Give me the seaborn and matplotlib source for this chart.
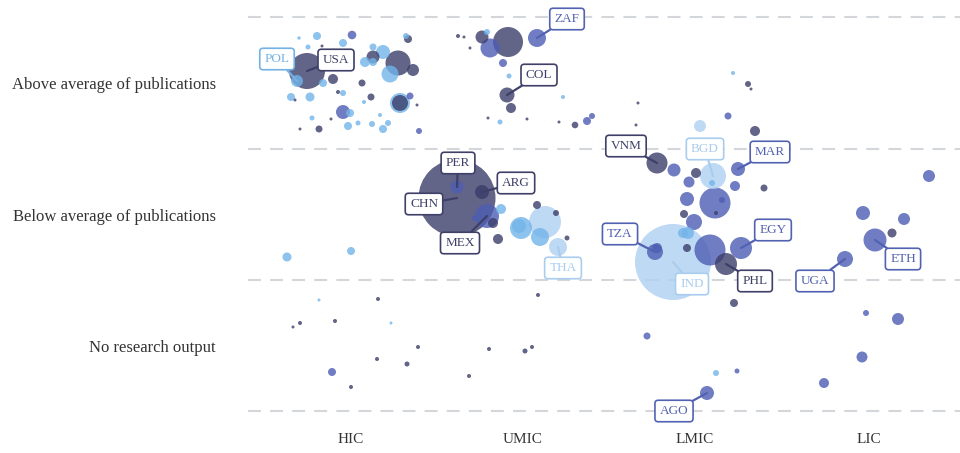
import numpy as np
import pandas as pd
import matplotlib
matplotlib.use("Agg")
import matplotlib.pyplot as plt
import seaborn as sns

# ---------------- data ----------------
income_groups = ["HIC", "UMIC", "LMIC", "LIC"]
income_centers = [351, 523, 695, 869]          # swarm-layout units
tiers = ["Above average of publications", "Below average of publications", "No research output"]
tier_centers = [83, 214.5, 345.5]
tier_bounds = [17, 149, 280, 411]

# bubble layout (swarm x, swarm y), bubble radius, colour group, country label
swarm_x = [
    # HIC above
    299, 317, 352, 406, 408, 308, 322, 343, 373, 383, 373, 365, 373, 390, 398, 413, 307, 297, 323, 333,
    362, 291, 295, 310, 338, 343, 371, 364, 400, 400, 410, 417, 343, 350, 312, 331, 348, 358, 372, 380,
    388, 383, 300, 319, 419,
    # UMIC above
    458, 464, 470, 482, 487, 490, 508, 537, 503, 509, 507, 511, 488, 500, 527, 563, 559, 575, 587, 592,
    # LMIC above
    638, 636, 733, 748, 751, 728, 700, 755,
    # UMIC below
    457, 457, 482, 487, 493, 475, 501, 498, 537, 545, 521, 519, 540, 558, 567, 556,
    # HIC below
    287, 351,
    # LMIC below
    657, 674, 696, 689, 713, 712, 738, 735, 764, 687, 715, 722, 716, 684, 694, 688, 683, 673, 655, 657,
    687, 710, 741, 726,
    # LIC below
    929, 863, 904, 892, 875, 845,
    # no research
    293, 300, 319, 335, 378, 391, 418, 377, 407, 332, 351, 469, 489, 525, 532, 538, 734, 647, 716, 737,
    707, 866, 898, 862, 824,
]
swarm_y = [
    38, 36, 35, 36, 39, 47, 46, 43, 47, 52, 57, 62, 62, 74, 63, 70, 71, 81, 83, 79,
    83, 97, 100, 97, 92, 93, 97, 102, 103, 103, 96, 105, 112, 113, 118, 119, 126, 123, 124, 115,
    123, 129, 129, 129, 131,
    36, 37, 48, 37, 32, 48, 42, 38, 63, 76, 95, 108, 118, 122, 119, 97, 122, 125, 121, 116,
    103, 125, 73, 84, 89, 116, 126, 131,
    198, 187, 192, 216, 223, 218, 209, 239, 205, 222, 228, 226, 237, 247, 238, 213,
    257, 251,
    163, 170, 173, 182, 176, 183, 169, 186, 188, 199, 203, 200, 213, 214, 222, 233, 233, 262, 252, 248,
    248, 250, 248, 264,
    176, 213, 219, 233, 240, 259,
    327, 323, 300, 321, 299, 323, 347, 359, 364, 372, 387, 376, 349, 351, 347, 295, 303, 336, 373, 371,
    393, 313, 319, 357, 383,
]
bubble = [
    1.7, 4, 4.3, 3, 4, 2.5, 1.5, 4, 3.5, 7, 6.5, 5, 4, 8.5, 12.5, 6, 18, 6, 4, 5,
    3.5, 4, 1.5, 4.5, 2, 3, 3.5, 2, 10, 8, 3.5, 1.5, 7, 4, 2.5, 1.5, 4, 2.5, 3, 2,
    3, 4, 1.5, 3.5, 3,
    2, 1.5, 1.5, 6.5, 3, 9.5, 15, 9, 4, 2.5, 7.5, 5, 1.5, 2.5, 1.5, 2, 1.5, 3.3, 4, 3,
    1.5, 1.5, 2, 3, 1.5, 3.5, 6, 5,
    38.5, 6.5, 7, 12, 5, 3, 5, 5, 4, 16, 11, 7, 9, 9, 2.5, 3,
    4.5, 4,
    10.5, 6.5, 5, 5.5, 13, 3, 7, 5, 3.5, 7, 15.5, 3, 2, 4, 8, 6, 5, 38, 8, 5,
    4, 15.5, 11, 11,
    6, 7, 6, 4.5, 11.5, 8,
    1.5, 2, 1.5, 2, 2, 1.5, 2, 2, 2.5, 4, 2, 2, 2, 2.5, 2, 2, 4, 3.5, 3, 2.5,
    7, 3, 6, 5.5, 5,
]
group = list(
    "LLMLDLDLLLDLLLDDDLLD"
    "DLDLDLDLLDMDMLLDLLLL"
    "LLDDM"
    "DDDDLMDMMLDDDLDLDDMM"
    "DDLDDMVD"
    "DMDMDMLDDVLLLVDD"
    "LL"
    "DMDMVLMMDMMMDDMLLVMM"
    "DMMD"
    "MMMDMM"
    "DDLDDLDDDMDDDDDDDMLM"
    "MMMMM"
)
country = [""] * len(swarm_x)
label_index = {"USA": 16, "POL": 17, "ZAF": 52, "COL": 55, "CHN": 73, "PER": 74, "ARG": 75,
               "MEX": 76, "THA": 86, "VNM": 91, "BGD": 95, "MAR": 97, "IND": 108, "TZA": 109,
               "EGY": 113, "PHL": 114, "ETH": 119, "UGA": 120, "AGO": 141}
for k, i in label_index.items():
    country[i] = k

# label box placement and colour group
label_pos = {"POL": (277, 59), "USA": (336, 60), "ZAF": (567, 19), "COL": (539, 75),
             "PER": (458, 163), "ARG": (516, 183), "CHN": (424, 204), "MEX": (460, 243),
             "THA": (563, 268), "VNM": (626, 146), "BGD": (705, 149), "MAR": (770, 152),
             "TZA": (620, 234), "EGY": (773, 230), "IND": (692, 284), "PHL": (755, 281),
             "UGA": (815, 281), "ETH": (903, 259), "AGO": (674, 411)}
label_group = {"POL": "L", "USA": "D", "ZAF": "M", "COL": "D", "PER": "D", "ARG": "D",
               "CHN": "D", "MEX": "D", "THA": "V", "VNM": "D", "BGD": "V", "MAR": "M",
               "TZA": "M", "EGY": "M", "IND": "V", "PHL": "D", "UGA": "M", "ETH": "M", "AGO": "M"}

palette = {"D": "#3b3d6a", "M": "#4d5db3", "L": "#72b4ea", "V": "#aed0f0"}
text_colors = {"D": "#3e4068", "M": "#5262b2", "L": "#74b2e6", "V": "#a9cdee"}

# ---------------- figure ----------------
sns.set_theme(style="white")
plt.rcParams["font.family"] = ["Liberation Serif", "DejaVu Serif"]

W, H = 960, 453
fig = plt.figure(figsize=(W / 100, H / 100), dpi=100)
ax_left, ax_right, ax_top, ax_bottom = 248, 960, 0, 425
ax = fig.add_axes([ax_left / W, 1 - ax_bottom / H, (ax_right - ax_left) / W, (ax_bottom - ax_top) / H])

df = pd.DataFrame({"x": swarm_x, "y": swarm_y, "r": bubble, "g": group, "country": country})
df["area"] = df["r"] ** 2
df = df.sort_values("area", ascending=False, kind="stable")
amax = df["area"].max()
px_to_pt = 0.72

for b in tier_bounds:
    ax.axhline(b, color="#d3d6da", lw=1.5, dashes=(6.2, 4.4), zorder=0)

sns.scatterplot(data=df, x="x", y="y", hue="g", size="area", palette=palette,
                sizes=(0, (2 * px_to_pt) ** 2 * amax), size_norm=(0, amax),
                alpha=0.8, linewidth=0, legend=False, ax=ax, zorder=2)

for _, row in df[df["country"] != ""].iterrows():
    c = row["country"]
    col = text_colors[label_group[c]]
    ax.annotate(c, xy=(row["x"], row["y"]), xytext=label_pos[c], xycoords="data",
                ha="center", va="center", fontsize=9.5, color=col, zorder=5,
                bbox=dict(boxstyle="round,pad=0.36,rounding_size=0.25", fc="white", ec=col, lw=1.2),
                arrowprops=dict(arrowstyle="-", color=col, lw=1.6, shrinkA=0, shrinkB=0))

ax.set_xlim(ax_left, ax_right)
ax.set_ylim(ax_bottom, ax_top)
ax.set_xticks(income_centers)
ax.set_xticklabels(income_groups, fontsize=11, color="#333333")
ax.set_yticks(tier_centers)
ax.set_yticklabels(tiers, fontsize=12, color="#333333")
ax.tick_params(axis="x", length=0, pad=6)
ax.tick_params(axis="y", length=0, pad=23)
ax.set_xlabel("")
ax.set_ylabel("")
for s in ax.spines.values():
    s.set_visible(False)

fig.savefig("out.png", dpi=100, facecolor="white")
